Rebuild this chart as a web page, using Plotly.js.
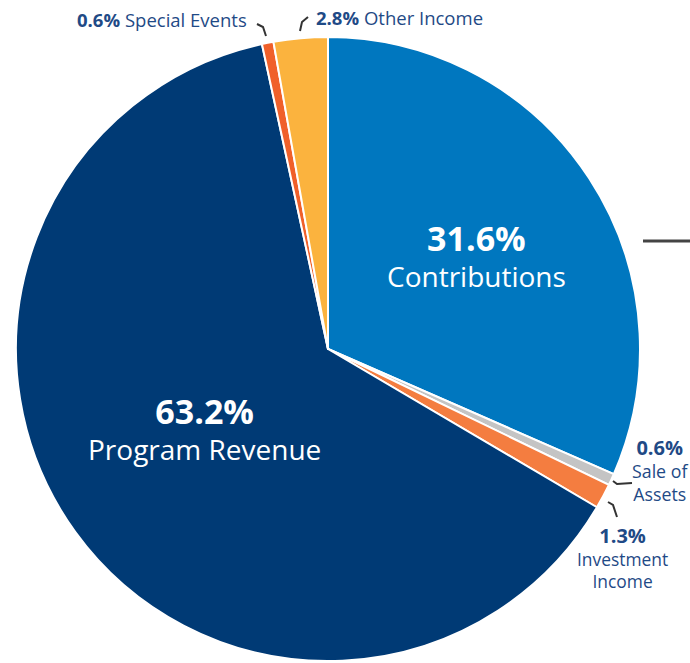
<!DOCTYPE html>
<html><head><meta charset="utf-8">
<script src="https://cdn.plot.ly/plotly-3.0.1.min.js"></script>
<style>body{margin:0;background:#fff}#chart{width:690px;height:663px}</style>
</head><body><div id="chart"></div>
<script>
const categories = ["Contributions", "Sale of Assets", "Investment Income", "Program Revenue", "Special Events", "Other Income"];
const values = [31.6, 0.6, 1.3, 63.2, 0.6, 2.8];
const colors = ["#0077BF", "#C4C4C4", "#F47D40", "#003A75", "#F0602A", "#FBB33E"];
const pctLabels = values.map(v => v.toFixed(1) + "%");

const W = 690, H = 663;
const px = x => x / W, py = y => 1 - y / H;
const navy = "#1F4A86";
const FONT = "Open Sans, Noto Sans, sans-serif";

const trace = {
  type: "pie",
  labels: categories,
  values: values,
  sort: false,
  direction: "clockwise",
  rotation: 0,
  marker: {colors: colors, line: {color: "#ffffff", width: 2}},
  textinfo: "none",
  hoverinfo: "label+percent",
  domain: {x: [px(16), px(640)], y: [py(661), py(37)]},
  showlegend: false
};

function ann(x, y, text, size, color, xanchor) {
  return {x: px(x), y: py(y), xref: "paper", yref: "paper", text: text, showarrow: false,
    xanchor: xanchor || "center", yanchor: "middle", font: {family: FONT, size: size, color: color}};
}
const big = t => "<span style='font-size:34px'><b>" + t + "</b></span>";
const mid = t => "<span style='font-size:20px'><b>" + t + "</b></span>";

const annotations = [
  ann(476, 255.5, big(pctLabels[0]) + "<br>" + categories[0], 28, "#ffffff"),
  ann(204, 427.5, big(pctLabels[3]) + "<br>" + "Program Revenue", 28, "#ffffff"),
  ann(249, 19, "<b>" + pctLabels[4] + "</b> " + categories[4], 18.5, navy, "right"),
  ann(314, 17, "<b>" + pctLabels[5] + "</b> " + categories[5], 18.5, navy, "left"),
  ann(660, 469.5, mid(pctLabels[1]) + "<br>Sale of<br>Assets", 17.8, navy),
  ann(622, 557.5, mid(pctLabels[2]) + "<br>Investment<br>Income", 17.4, navy)
];

function path(pts) {
  return "M" + pts.map(p => px(p[0]) + "," + py(p[1])).join(" L");
}
const leader = {color: "#333333", width: 2};
const shapes = [
  {type: "path", xref: "paper", yref: "paper", path: path([[257, 24], [263, 27], [266, 36]]), line: leader},
  {type: "path", xref: "paper", yref: "paper", path: path([[300, 31], [302, 22], [308, 17]]), line: leader},
  {type: "path", xref: "paper", yref: "paper", path: path([[613, 481], [617, 484], [632, 483]]), line: leader},
  {type: "path", xref: "paper", yref: "paper", path: path([[608, 502], [613, 505], [617, 517]]), line: leader},
  {type: "line", xref: "paper", yref: "paper", x0: px(643), x1: px(690), y0: py(241), y1: py(241), line: {color: "#444444", width: 3}}
];

Plotly.newPlot("chart", [trace], {
  width: W, height: H,
  margin: {l: 0, r: 0, t: 0, b: 0},
  paper_bgcolor: "#ffffff",
  annotations: annotations,
  shapes: shapes,
  font: {family: FONT}
}, {displayModeBar: false, staticPlot: true});
</script>
</body></html>
